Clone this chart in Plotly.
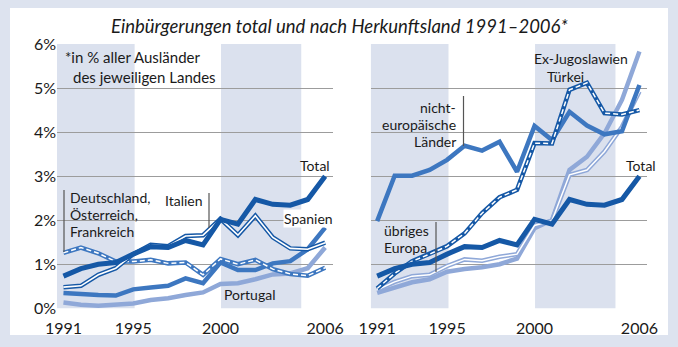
import plotly.graph_objects as go

W, H = 678, 347

years = list(range(1991, 2007))

# Left panel (in % of all foreigners of the respective country)
total = [0.73, 0.90, 1.00, 1.04, 1.23, 1.40, 1.38, 1.54, 1.44, 2.02, 1.91, 2.47, 2.36, 2.34, 2.47, 3.00]
italien = [0.48, 0.51, 0.76, 0.91, 1.23, 1.44, 1.41, 1.64, 1.66, 2.03, 1.66, 2.10, 1.61, 1.36, 1.34, 1.49]
d_oe_f = [1.26, 1.38, 1.25, 1.06, 1.06, 1.10, 1.02, 1.04, 0.76, 1.12, 1.00, 1.10, 0.89, 0.78, 0.74, 0.92]
spanien = [0.35, 0.32, 0.30, 0.29, 0.43, 0.47, 0.51, 0.68, 0.57, 1.04, 0.87, 0.87, 1.02, 1.07, 1.34, 1.83]
portugal = [0.13, 0.08, 0.06, 0.08, 0.11, 0.19, 0.23, 0.30, 0.36, 0.55, 0.57, 0.66, 0.77, 0.79, 0.91, 1.38]

# Right panel
nicht_eu = [1.98, 3.01, 3.01, 3.14, 3.37, 3.69, 3.58, 3.78, 3.10, 4.14, 3.82, 4.46, 4.15, 3.95, 4.02, 5.07]
tuerkei = [0.45, 0.79, 1.07, 1.23, 1.41, 1.70, 2.16, 2.52, 2.69, 3.75, 3.74, 4.96, 5.12, 4.43, 4.40, 4.50]
ex_jug = [0.35, 0.48, 0.59, 0.66, 0.83, 0.89, 0.93, 1.00, 1.13, 1.82, 2.00, 3.14, 3.44, 3.97, 4.73, 5.83]
uebr_eu = [0.42, 0.60, 0.73, 0.76, 0.96, 1.11, 1.08, 1.17, 1.23, 1.88, 1.99, 3.03, 3.14, 3.56, 4.12, 4.92]

x_ticks = [1991, 1995, 2000, 2006]
y_ticks = [0, 1, 2, 3, 4, 5, 6]
y_ticktext = ["0%", "1%", "2%", "3%", "4%", "5%", "6%"]
bands = [(1990.63, 1995.08), (2000.03, 2004.63)]

title = "Einbürgerungen total und nach Herkunftsland 1991–2006*"

DARK = "#1558a6"
MED = "#3d77c0"
LIGHT = "#8fa8d8"
BGC = "#dde3ef"
BAND = "#dbe1ee"
GRID = "#9c9c9c"
TXT = "#1a1a1a"
FONT = "Lato"


def px(x):
    return x / W


def py(y):
    return 1 - y / H


fig = go.Figure()


def add_line(xa, ya, vals, color, width, inner=None, dash=None):
    fig.add_trace(go.Scatter(x=years, y=vals, mode="lines", xaxis=xa, yaxis=ya,
                             line=dict(color=color, width=width), hoverinfo="skip",
                             showlegend=False))
    if inner:
        fig.add_trace(go.Scatter(x=years, y=vals, mode="lines", xaxis=xa, yaxis=ya,
                                 line=dict(color="white", width=inner, dash=dash or "solid"),
                                 hoverinfo="skip", showlegend=False))


# left panel
add_line("x", "y", portugal, LIGHT, 4.5)
add_line("x", "y", spanien, MED, 4.5)
add_line("x", "y", d_oe_f, MED, 4.5, inner=1.5, dash="5px,3px")
add_line("x", "y", italien, DARK, 4.5, inner=1.6)
add_line("x", "y", total, DARK, 5)

# right panel
add_line("x2", "y2", ex_jug, LIGHT, 4.5)
add_line("x2", "y2", uebr_eu, LIGHT, 4.5, inner=1.5)
add_line("x2", "y2", nicht_eu, MED, 4.5)
add_line("x2", "y2", tuerkei, DARK, 4.5, inner=1.5, dash="5px,3px")
add_line("x2", "y2", total, DARK, 5)

shapes = [
    dict(type="rect", xref="paper", yref="paper", x0=px(10), x1=px(668), y0=py(335), y1=py(8),
         fillcolor="white", line=dict(width=0), layer="below"),
]
for xr in ["x", "x2"]:
    for b0, b1 in bands:
        shapes.append(dict(type="rect", xref=xr, yref=("y" if xr == "x" else "y2") + " domain",
                           x0=b0, x1=b1, y0=0, y1=1, fillcolor=BAND, line=dict(width=0),
                           layer="below"))

# pointer lines
for (x, y0, y1) in [(64, 190, 252), (209, 193, 228), (463.5, 96, 146), (436, 222, 272)]:
    shapes.append(dict(type="line", xref="paper", yref="paper", x0=px(x), x1=px(x),
                       y0=py(y0), y1=py(y1), line=dict(color="#555555", width=1.2)))

ann = []


def label(text, x, y, anchor="left", size=14, bg=None, italic=False):
    d = dict(text=text, xref="paper", yref="paper", x=px(x), y=py(y), xanchor=anchor,
             yanchor="middle", showarrow=False, borderpad=0,
             font=dict(family=FONT, size=size, color=TXT, style="italic" if italic else "normal"))
    if bg:
        d["bgcolor"] = bg
    ann.append(d)


label(title, 339.5, 26, anchor="center", size=18.5, italic=True)
label("*in % aller Ausländer", 64, 57, size=15)
label("des jeweiligen Landes", 72, 77, size=15)
label("Total", 331, 165, anchor="right")
label("Deutschland,", 69, 197)
label("Österreich,", 69, 214)
label("Frankreich", 69, 231)
label("Italien", 204, 200, anchor="right")
label("Spanien", 334, 218, anchor="right", bg="white")
label("Portugal", 223, 294)
label("nicht-", 457, 107, anchor="right")
label("europäische", 457, 124, anchor="right")
label("Länder", 457, 141, anchor="right")
label("Ex-Jugoslawien", 581, 58, anchor="center")
label("Türkei", 565, 76, anchor="center")
label("übriges", 383, 230)
label("Europa", 383, 247)
label("Total", 657, 166, anchor="right")

ydom = [py(308.3), py(44)]
axis_x = dict(range=[1990.63, 2006.45], tickvals=x_ticks, showgrid=False, zeroline=False,
              showline=False, ticks="outside", ticklen=5, tickcolor="rgba(0,0,0,0)",
              tickfont=dict(family=FONT, size=16, color=TXT), fixedrange=True, automargin=False)
axis_y = dict(range=[0, 6], tickvals=y_ticks, ticktext=y_ticktext, tickmode="array",
              showgrid=True, gridcolor=GRID,
              gridwidth=1, zeroline=False, showline=False,
              tickfont=dict(family=FONT, size=16, color=TXT), fixedrange=True, automargin=False)

fig.update_layout(
    width=W, height=H,
    margin=dict(l=0, r=0, t=0, b=0, pad=0),
    paper_bgcolor=BGC,
    plot_bgcolor="white",
    showlegend=False,
    xaxis=dict(axis_x, domain=[px(57), px(333)], anchor="y"),
    yaxis=dict(axis_y, domain=ydom, anchor="x"),
    xaxis2=dict(axis_x, domain=[px(370.7), px(647.3)], anchor="y2"),
    yaxis2=dict(axis_y, domain=ydom, anchor="x2", showticklabels=False),
    shapes=shapes,
    annotations=ann,
)

fig.write_html("out.html")
